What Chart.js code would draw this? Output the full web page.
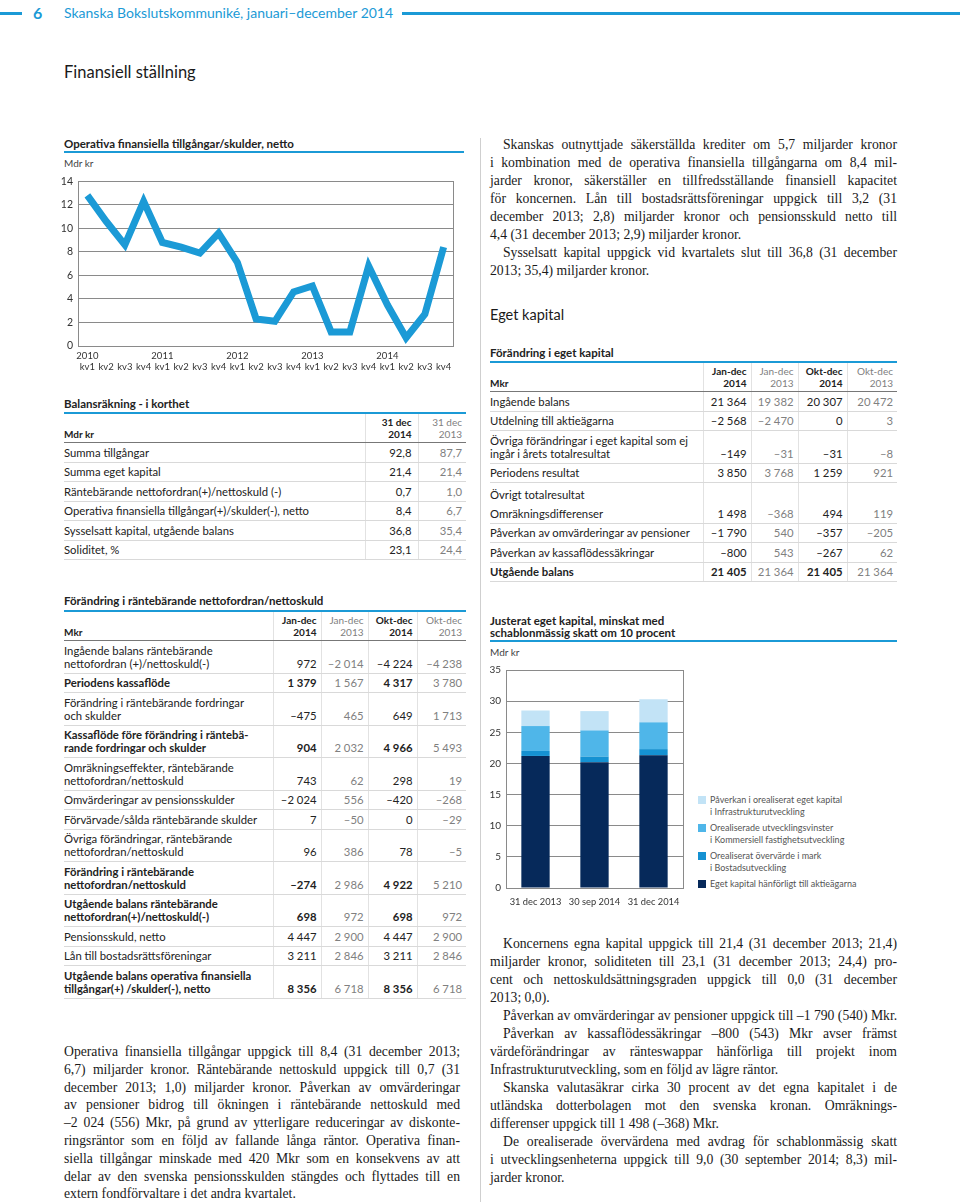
<!DOCTYPE html>
<html lang="sv">
<head>
<meta charset="UTF-8">
<title>Finansiell ställning</title>
<script src="https://cdn.jsdelivr.net/npm/chart.js"></script>
<style>
  body { margin: 0; width: 960px; height: 1202px; position: relative; overflow: hidden; background: #fff; font-family: Lato, "Noto Sans", sans-serif; color: #222; }
  .abs { position: absolute; white-space: nowrap; }
  .line { position: absolute; background: #1b9ad6; }
  .rule { position: absolute; height: 2px; background: #1b9ad6; }
  .h { position: absolute; font-weight: 700; font-size: 11.5px; line-height: 12px; white-space: nowrap; }
  .unit { position: absolute; font-size: 10px; line-height: 12px; color: #444; }
  .serif { position: absolute; font-family: "Liberation Serif", "DejaVu Serif", serif; font-size: 13.7px; color: #1a1a1a; }
  .serif div { white-space: nowrap; }
  .serif .j { text-align: justify; text-align-last: justify; }
  .serif .i { padding-left: 13px; }
  table.t { position: absolute; border-collapse: collapse; table-layout: fixed; font-size: 11.3px; color: #222; }
  table.t td { padding: 2.5px 4px 3px 0; line-height: 13px; vertical-align: bottom; border-bottom: 1px solid #d9d9d9; white-space: nowrap; }
  table.t td.n { text-align: right; border-left: 1px solid #e2e2e2; }
  table.t tr.hd td { font-size: 10px; line-height: 11.5px; padding: 3px 4px 2px 0; border-bottom: 1px solid #777; font-weight: 700; }
  table.t tr.hd td.g { font-weight: 400; }
  table.t .g { color: #808080; }
  table.t .b { font-weight: 700; }
  table.t tr.sum td:first-child { font-weight: 700; }
  table.t tr.top td { border-top: 1px solid #888; }
  table.t tr.nob td { border-bottom: none; padding-top: 5px; }
  .legend { position: absolute; left: 698px; top: 794px; font-size: 9px; line-height: 12px; color: #555; }
  .legend .item { position: relative; padding-left: 12px; margin-bottom: 4px; white-space: nowrap; }
  .legend .sw { position: absolute; left: 0; top: 2px; width: 8px; height: 8px; }
</style>
</head>
<body>

<div class="line" style="left:0;top:12px;width:22px;height:2.5px"></div>
<div class="abs" style="left:33px;top:3px;font-size:16px;line-height:20px;font-weight:700;color:#1b9ad6">6</div>
<div class="abs" style="left:64px;top:4px;font-size:14px;line-height:18px;color:#1b9ad6">Skanska Bokslutskommuniké, januari–december 2014</div>
<div class="line" style="left:402px;top:12px;width:558px;height:2.5px"></div>

<div class="abs" style="left:64px;top:61px;font-size:16.5px;line-height:22px;color:#1a1a1a">Finansiell ställning</div>

<div style="position:absolute;left:480px;top:138px;width:1px;height:1064px;background:#cfcfcf"></div>

<!-- Linjediagram -->
<div class="h" style="left:64px;top:138px">Operativa finansiella tillgångar/skulder, netto</div>
<div class="rule" style="left:64px;top:151px;width:400px"></div>
<div class="unit" style="left:64px;top:157px">Mdr kr</div>
<canvas id="lineChart" width="399" height="206" style="position:absolute;left:58px;top:170px"></canvas>

<!-- Balansräkning -->
<div class="h" style="left:64px;top:398px">Balansräkning - i korthet</div>
<div class="rule" style="left:64px;top:412px;width:402px"></div>
<table class="t" style="left:64px;top:414px;width:402px">
  <colgroup><col style="width:301px"><col style="width:53px"><col style="width:48px"></colgroup>
  <tr class="hd"><td>Mdr kr</td><td class="n" style="padding-right:6px">31 dec<br>2014</td><td class="n g">31 dec<br>2013</td></tr>
  <tr><td>Summa tillgångar</td><td class="n" style="padding-right:6px">92,8</td><td class="n g">87,7</td></tr>
  <tr><td>Summa eget kapital</td><td class="n" style="padding-right:6px">21,4</td><td class="n g">21,4</td></tr>
  <tr><td>Räntebärande nettofordran(+)/nettoskuld (-)</td><td class="n" style="padding-right:6px">0,7</td><td class="n g">1,0</td></tr>
  <tr><td>Operativa finansiella tillgångar(+)/skulder(-), netto</td><td class="n" style="padding-right:6px">8,4</td><td class="n g">6,7</td></tr>
  <tr><td>Sysselsatt kapital, utgående balans</td><td class="n" style="padding-right:6px">36,8</td><td class="n g">35,4</td></tr>
  <tr><td>Soliditet, %</td><td class="n" style="padding-right:6px">23,1</td><td class="n g">24,4</td></tr>
</table>

<!-- Förändring i räntebärande nettofordran -->
<div class="h" style="left:64px;top:595px">Förändring i räntebärande nettofordran/nettoskuld</div>
<div class="rule" style="left:64px;top:610px;width:402px"></div>
<table class="t" style="left:64px;top:612px;width:402px">
  <colgroup><col style="width:209px"><col style="width:48px"><col style="width:47px"><col style="width:49px"><col style="width:49px"></colgroup>
  <tr class="hd"><td>Mkr</td><td class="n">Jan-dec<br>2014</td><td class="n g">Jan-dec<br>2013</td><td class="n">Okt-dec<br>2014</td><td class="n g">Okt-dec<br>2013</td></tr>
  <tr><td>Ingående balans räntebärande<br>nettofordran (+)/nettoskuld(-)</td><td class="n">972</td><td class="n g">–2&nbsp;014</td><td class="n">–4&nbsp;224</td><td class="n g">–4&nbsp;238</td></tr>
  <tr class="sum"><td>Periodens kassaflöde</td><td class="n b">1&nbsp;379</td><td class="n g">1&nbsp;567</td><td class="n b">4&nbsp;317</td><td class="n g">3&nbsp;780</td></tr>
  <tr><td>Förändring i räntebärande fordringar<br>och skulder</td><td class="n">–475</td><td class="n g">465</td><td class="n">649</td><td class="n g">1&nbsp;713</td></tr>
  <tr class="sum"><td>Kassaflöde före förändring i räntebä-<br>rande fordringar och skulder</td><td class="n b">904</td><td class="n g">2&nbsp;032</td><td class="n b">4&nbsp;966</td><td class="n g">5&nbsp;493</td></tr>
  <tr><td>Omräkningseffekter, räntebärande<br>nettofordran/nettoskuld</td><td class="n">743</td><td class="n g">62</td><td class="n">298</td><td class="n g">19</td></tr>
  <tr><td>Omvärderingar av pensionsskulder</td><td class="n">–2&nbsp;024</td><td class="n g">556</td><td class="n">–420</td><td class="n g">–268</td></tr>
  <tr><td>Förvärvade/sålda räntebärande skulder</td><td class="n">7</td><td class="n g">–50</td><td class="n">0</td><td class="n g">–29</td></tr>
  <tr><td>Övriga förändringar, räntebärande<br>nettofordran/nettoskuld</td><td class="n">96</td><td class="n g">386</td><td class="n">78</td><td class="n g">–5</td></tr>
  <tr class="sum top"><td>Förändring i räntebärande<br>nettofordran/nettoskuld</td><td class="n b">–274</td><td class="n g">2&nbsp;986</td><td class="n b">4&nbsp;922</td><td class="n g">5&nbsp;210</td></tr>
  <tr class="sum"><td>Utgående balans räntebärande<br>nettofordran(+)/nettoskuld(-)</td><td class="n b">698</td><td class="n g">972</td><td class="n b">698</td><td class="n g">972</td></tr>
  <tr><td>Pensionsskuld, netto</td><td class="n">4&nbsp;447</td><td class="n g">2&nbsp;900</td><td class="n">4&nbsp;447</td><td class="n g">2&nbsp;900</td></tr>
  <tr><td>Lån till bostadsrättsföreningar</td><td class="n">3&nbsp;211</td><td class="n g">2&nbsp;846</td><td class="n">3&nbsp;211</td><td class="n g">2&nbsp;846</td></tr>
  <tr class="sum top"><td>Utgående balans operativa finansiella<br>tillgångar(+) /skulder(-), netto</td><td class="n b">8&nbsp;356</td><td class="n g">6&nbsp;718</td><td class="n b">8&nbsp;356</td><td class="n g">6&nbsp;718</td></tr>
</table>

<div class="serif" style="left:64px;top:1043px;width:396px;line-height:17.8px">
  <div class="j">Operativa finansiella tillgångar uppgick till 8,4 (31 december 2013;</div>
  <div class="j">6,7) miljarder kronor. Räntebärande nettoskuld uppgick till 0,7 (31</div>
  <div class="j">december 2013; 1,0) miljarder kronor. Påverkan av omvärderingar</div>
  <div class="j">av pensioner bidrog till ökningen i räntebärande nettoskuld med</div>
  <div class="j">–2 024 (556) Mkr, på grund av ytterligare reduceringar av diskonte-</div>
  <div class="j">ringsräntor som en följd av fallande långa räntor. Operativa finan-</div>
  <div class="j">siella tillgångar minskade med 420 Mkr som en konsekvens av att</div>
  <div class="j">delar av den svenska pensionsskulden stängdes och flyttades till en</div>
  <div>extern fondförvaltare i det andra kvartalet.</div>
</div>

<!-- Höger kolumn -->
<div class="serif" style="left:490px;top:136px;width:407px;line-height:18px">
  <div class="j i">Skanskas outnyttjade säkerställda krediter om 5,7 miljarder kronor</div>
  <div class="j">i kombination med de operativa finansiella tillgångarna om 8,4 mil-</div>
  <div class="j">jarder kronor, säkerställer en tillfredsställande finansiell kapacitet</div>
  <div class="j">för koncernen. Lån till bostadsrättsföreningar uppgick till 3,2 (31</div>
  <div class="j">december 2013; 2,8) miljarder kronor och pensionsskuld netto till</div>
  <div>4,4 (31 december 2013; 2,9) miljarder kronor.</div>
  <div class="j i">Sysselsatt kapital uppgick vid kvartalets slut till 36,8 (31 december</div>
  <div>2013; 35,4) miljarder kronor.</div>
</div>

<div class="abs" style="left:490px;top:305px;font-size:14.5px;line-height:20px;color:#1a1a1a">Eget kapital</div>

<div class="h" style="left:490px;top:347px">Förändring i eget kapital</div>
<div class="rule" style="left:490px;top:361px;width:407px"></div>
<table class="t" style="left:490px;top:363px;width:407px">
  <colgroup><col style="width:213px"><col style="width:48px"><col style="width:47px"><col style="width:49px"><col style="width:50px"></colgroup>
  <tr class="hd"><td>Mkr</td><td class="n">Jan-dec<br>2014</td><td class="n g">Jan-dec<br>2013</td><td class="n">Okt-dec<br>2014</td><td class="n g">Okt-dec<br>2013</td></tr>
  <tr><td>Ingående balans</td><td class="n">21&nbsp;364</td><td class="n g">19&nbsp;382</td><td class="n">20&nbsp;307</td><td class="n g">20&nbsp;472</td></tr>
  <tr><td>Utdelning till aktieägarna</td><td class="n">–2&nbsp;568</td><td class="n g">–2&nbsp;470</td><td class="n">0</td><td class="n g">3</td></tr>
  <tr><td>Övriga förändringar i eget kapital som ej<br>ingår i årets totalresultat</td><td class="n">–149</td><td class="n g">–31</td><td class="n">–31</td><td class="n g">–8</td></tr>
  <tr><td>Periodens resultat</td><td class="n">3&nbsp;850</td><td class="n g">3&nbsp;768</td><td class="n">1&nbsp;259</td><td class="n g">921</td></tr>
  <tr class="nob"><td>Övrigt totalresultat</td><td class="n"></td><td class="n g"></td><td class="n"></td><td class="n g"></td></tr>
  <tr><td>Omräkningsdifferenser</td><td class="n">1&nbsp;498</td><td class="n g">–368</td><td class="n">494</td><td class="n g">119</td></tr>
  <tr><td>Påverkan av omvärderingar av pensioner</td><td class="n">–1&nbsp;790</td><td class="n g">540</td><td class="n">–357</td><td class="n g">–205</td></tr>
  <tr><td>Påverkan av kassaflödessäkringar</td><td class="n">–800</td><td class="n g">543</td><td class="n">–267</td><td class="n g">62</td></tr>
  <tr class="sum top"><td>Utgående balans</td><td class="n b">21&nbsp;405</td><td class="n g">21&nbsp;364</td><td class="n b">21&nbsp;405</td><td class="n g">21&nbsp;364</td></tr>
</table>

<!-- Stapeldiagram -->
<div class="h" style="left:490px;top:615px">Justerat eget kapital, minskat med<br>schablonmässig skatt om 10 procent</div>
<div class="rule" style="left:490px;top:640px;width:407px"></div>
<div class="unit" style="left:490px;top:646px">Mdr kr</div>
<canvas id="barChart" width="200" height="251" style="position:absolute;left:488px;top:659px"></canvas>
<div class="legend" id="barLegend"></div>

<div class="serif" style="left:490px;top:935px;width:407px;line-height:18px">
  <div class="j i">Koncernens egna kapital uppgick till 21,4 (31 december 2013; 21,4)</div>
  <div class="j">miljarder kronor, soliditeten till 23,1 (31 december 2013; 24,4) pro-</div>
  <div class="j">cent och nettoskuldsättningsgraden uppgick till 0,0 (31 december</div>
  <div>2013; 0,0).</div>
  <div class="j i">Påverkan av omvärderingar av pensioner uppgick till –1 790 (540) Mkr.</div>
  <div class="j i">Påverkan av kassaflödessäkringar –800 (543) Mkr avser främst</div>
  <div class="j">värdeförändringar av ränteswappar hänförliga till projekt inom</div>
  <div>Infrastrukturutveckling, som en följd av lägre räntor.</div>
  <div class="j i">Skanska valutasäkrar cirka 30 procent av det egna kapitalet i de</div>
  <div class="j">utländska dotterbolagen mot den svenska kronan. Omräknings-</div>
  <div>differenser uppgick till 1 498 (–368) Mkr.</div>
  <div class="j i">De orealiserade övervärdena med avdrag för schablonmässig skatt</div>
  <div class="j">i utvecklingsenheterna uppgick till 9,0 (30 september 2014; 8,3) mil-</div>
  <div>jarder kronor.</div>
</div>

<script>
  // Operativa finansiella tillgångar/skulder, netto (Mdr kr)
  const years = ['2010', '2011', '2012', '2013', '2014'];
  const quarters = ['kv1', 'kv2', 'kv3', 'kv4'];
  const netOperating = [12.8, 10.6, 8.6, 12.3, 8.8, 8.4, 7.9, 9.6, 7.1, 2.3, 2.1, 4.6, 5.1, 1.2, 1.2, 6.8, 3.5, 0.7, 2.7, 8.4];
  const lineYTicks = [0, 2, 4, 6, 8, 10, 12, 14];

  // Justerat eget kapital (Mdr kr)
  const barDates = ['31 dec 2013', '30 sep 2014', '31 dec 2014'];
  const equityOwners = [21.2, 20.2, 21.3];
  const landSurplus = [0.8, 0.9, 1.0];
  const commercialGains = [4.0, 4.2, 4.3];
  const infraImpact = [2.5, 3.1, 3.7];
  const barYTicks = [0, 5, 10, 15, 20, 25, 30, 35];
  const barSeriesNames = [
    ['Eget kapital hänförligt till aktieägarna'],
    ['Orealiserat övervärde i mark', 'i Bostadsutveckling'],
    ['Orealiserade utvecklingsvinster', 'i Kommersiell fastighetsutveckling'],
    ['Påverkan i orealiserat eget kapital', 'i Infrastrukturutveckling']
  ];
  const barColors = ['#06295a', '#1591d2', '#4fb6e9', '#c2e3f6'];

  const blue = '#1b9ad6';
  const gridGray = '#8a8a8a';

  Chart.defaults.font.family = 'Lato, "Noto Sans", sans-serif';
  Chart.defaults.color = '#333';

  // ram runt diagramytan
  const frame = {
    id: 'frame',
    beforeDatasetsDraw(chart) {
      const { ctx, chartArea: a } = chart;
      ctx.save();
      ctx.strokeStyle = gridGray;
      ctx.lineWidth = 1;
      ctx.strokeRect(Math.round(a.left) + 0.5, Math.round(a.top) + 0.5,
        Math.round(a.right - a.left), Math.round(a.bottom - a.top));
      ctx.restore();
    }
  };

  const qLabels = years.flatMap(y => quarters.map((q, i) => [i === 0 ? y : '', q]));

  new Chart(document.getElementById('lineChart'), {
    type: 'line',
    data: {
      labels: qLabels,
      datasets: [{
        data: netOperating,
        borderColor: blue,
        borderWidth: 7,
        borderJoinStyle: 'miter',
        pointRadius: 0,
        tension: 0,
        fill: false
      }]
    },
    options: {
      responsive: false,
      animation: false,
      devicePixelRatio: 1,
      layout: { padding: { top: 11, right: 4, left: 0, bottom: 0 } },
      plugins: { legend: { display: false }, tooltip: { enabled: false } },
      scales: {
        x: {
          offset: true,
          grid: { display: false, drawTicks: false },
          border: { display: false },
          ticks: { autoSkip: false, maxRotation: 0, padding: 4, font: { size: 9.5 }, color: '#333' },
          afterFit: s => { s.height = 30; }
        },
        y: {
          min: lineYTicks[0],
          max: lineYTicks[lineYTicks.length - 1],
          afterBuildTicks: s => { s.ticks = lineYTicks.map(v => ({ value: v })); },
          grid: { color: gridGray, drawTicks: false },
          border: { display: false },
          ticks: { padding: 5, font: { size: 10.5 }, color: '#333' },
          afterFit: s => { s.width = 20; }
        }
      }
    },
    plugins: [frame]
  });

  const barSeries = [equityOwners, landSurplus, commercialGains, infraImpact];

  new Chart(document.getElementById('barChart'), {
    type: 'bar',
    data: {
      labels: barDates,
      datasets: barSeries.map((d, i) => ({
        label: barSeriesNames[i].join(' '),
        data: d,
        backgroundColor: barColors[i],
        borderWidth: 0,
        categoryPercentage: 1,
        barPercentage: 0.48
      }))
    },
    options: {
      responsive: false,
      animation: false,
      devicePixelRatio: 1,
      layout: { padding: { top: 10, right: 4, left: 0, bottom: 0 } },
      plugins: { legend: { display: false }, tooltip: { enabled: false } },
      scales: {
        x: {
          stacked: true,
          grid: { display: false, drawTicks: false },
          border: { display: false },
          ticks: { autoSkip: false, minRotation: 0, maxRotation: 0, padding: 8, font: { size: 9.3 }, color: '#333' },
          afterFit: s => { s.height = 22; }
        },
        y: {
          stacked: true,
          min: barYTicks[0],
          max: barYTicks[barYTicks.length - 1],
          afterBuildTicks: s => { s.ticks = barYTicks.map(v => ({ value: v })); },
          grid: { color: gridGray, drawTicks: false },
          border: { display: false },
          ticks: { padding: 5, font: { size: 10 }, color: '#333' },
          afterFit: s => { s.width = 18; }
        }
      }
    },
    plugins: [frame]
  });

  // förklaring, översta serien först
  const legendEl = document.getElementById('barLegend');
  for (let i = barSeriesNames.length - 1; i >= 0; i--) {
    const item = document.createElement('div');
    item.className = 'item';
    item.innerHTML = '<span class="sw" style="background:' + barColors[i] + '"></span>' + barSeriesNames[i].join('<br>');
    legendEl.appendChild(item);
  }
</script>
</body>
</html>
